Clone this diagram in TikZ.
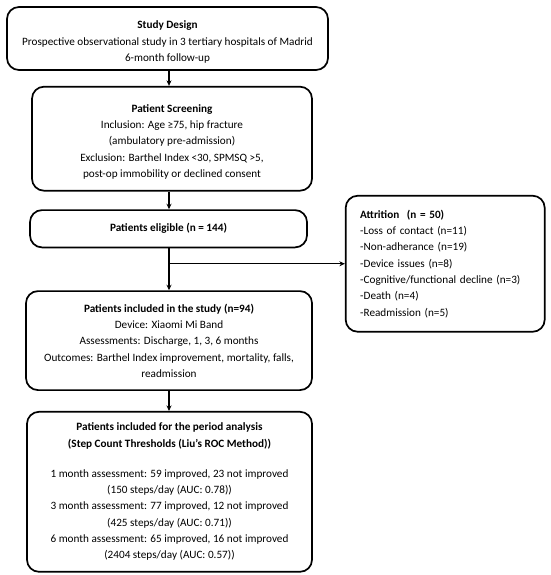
\documentclass[tikz,border=0pt]{standalone}
\usepackage{fontspec}
\setmainfont{Carlito}
\usetikzlibrary{positioning, arrows.meta, calc}

\begin{document}
\begin{tikzpicture}[x=1pt, y=1pt, >={Stealth[length=5.5pt, width=5pt]},
        every node/.style={font=\fontsize{11.2}{16.3}\selectfont},
        flowbox/.style={draw, rectangle, rounded corners=12pt, line width=1.7pt, align=center, inner sep=0pt},
        flowarrow/.style={->, line width=1.3pt}]
      \useasboundingbox (0,0) rectangle (550,-575);

      % Study design
      \node[flowbox, minimum width=321pt, minimum height=63pt] (design) at (167.5,-38.5) {\rule{0pt}{15pt}\textbf{Study Design}\\Prospective observational study in 3 tertiary hospitals of Madrid\\6-month follow-up};

      % Screening
      \node[flowbox, below=15pt of design, xshift=4.5pt, minimum width=280pt, minimum height=104pt] (screen) {\rule{0pt}{14pt}\textbf{Patient Screening}\\Inclusion: Age ≥75, hip fracture\\(ambulatory pre-admission)\\Exclusion: Barthel Index <30, SPMSQ >5,\\post-op immobility or declined consent};

      % Eligible
      \node[flowbox, below=17.7pt of screen, xshift=-3.5pt, minimum width=277pt, minimum height=37.3pt] (elig) {\textbf{Patients eligible (n = 144)}};

      % Attrition
      \node[flowbox, right=37pt of elig, yshift=-35pt, minimum width=199pt, minimum height=136pt, align=left, text width=170pt, inner xsep=14.5pt] (attr) {\textbf{Attrition\ \ (n = 50)}\\-Loss of contact (n=11)\\-Non-adherance (n=19)\\-Device issues (n=8)\\-Cognitive/functional decline (n=3)\\-Death (n=4)\\-Readmission (n=5)};

      % Included
      \node[flowbox, below=42pt of elig, xshift=0.5pt, minimum width=286pt, minimum height=99pt] (incl) {\textbf{Patients included in the study (n=94)}\\Device: Xiaomi Mi Band\\Assessments: Discharge, 1, 3, 6 months\\Outcomes: Barthel Index improvement, mortality, falls,\\readmission};

      % Period analysis
      \node[flowbox, below=20pt of incl, xshift=0.5pt, minimum width=285pt, minimum height=160pt] (period) {\textbf{Patients included for the period analysis}\\\textbf{(Step Count Thresholds (Liu’s ROC Method))}\\[13.8pt]1 month assessment: 59 improved, 23 not improved\\(150 steps/day (AUC: 0.78))\\3 month assessment: 77 improved, 12 not improved\\(425 steps/day (AUC: 0.71))\\6 month assessment: 65 improved, 16 not improved\\(2404 steps/day (AUC: 0.57))};

      % Connectors
      \draw[flowarrow] (design.south -| incl.north) -- (screen.north -| incl.north);
      \draw[flowarrow] (screen.south -| incl.north) -- (elig.north -| incl.north);
      \draw[flowarrow] (elig.south -| incl.north) -- (incl.north);
      \draw[flowarrow] (incl.north |- attr.west) -- (attr.west);
      \draw[flowarrow] (incl.south) -- (period.north -| incl.south);
    \end{tikzpicture}
\end{document}
